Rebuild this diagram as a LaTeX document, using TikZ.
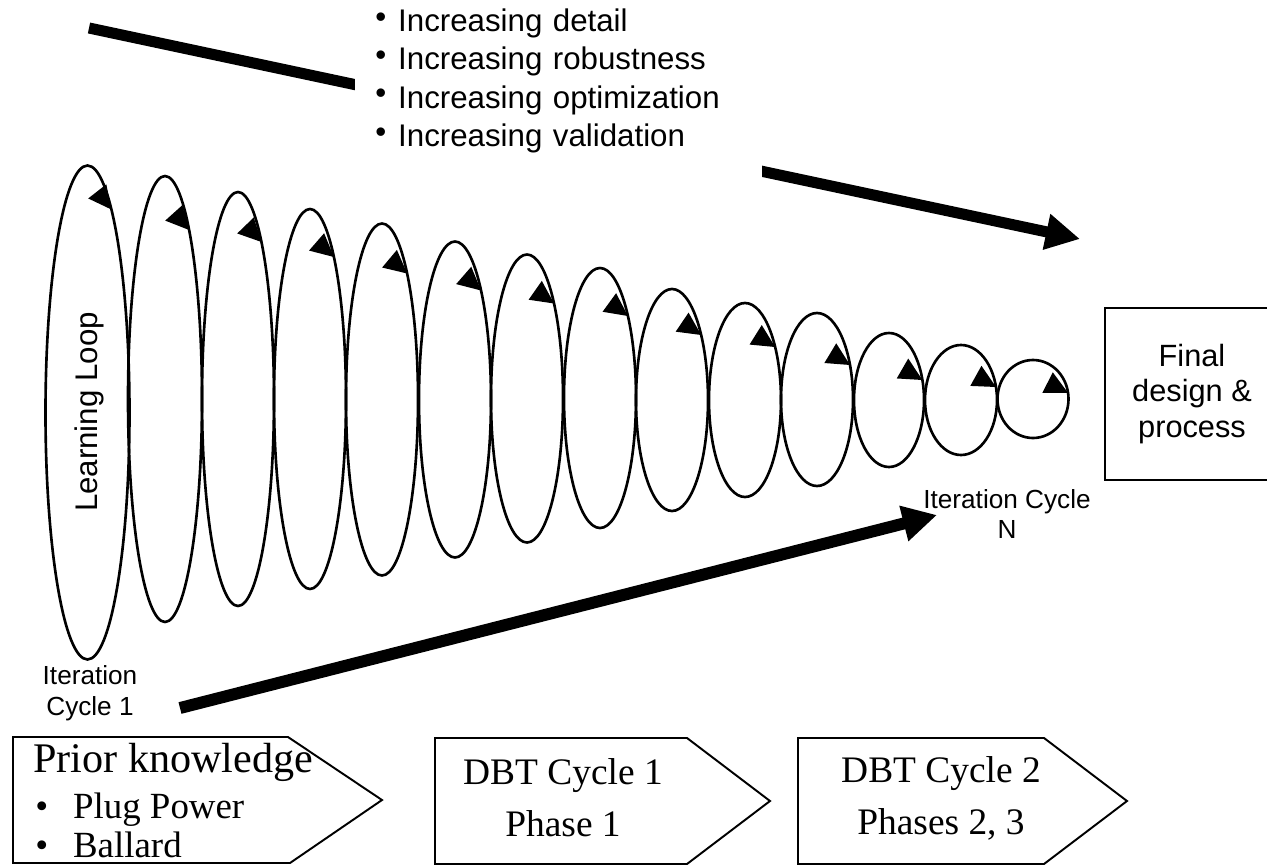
\documentclass[tikz,border=0pt]{standalone}
\usepackage{fontspec}
\setmainfont{Liberation Serif}
\setsansfont{Liberation Sans}
\usetikzlibrary{arrows.meta,calc}

\begin{document}
\begin{tikzpicture}[x=0.02cm, y=-0.02cm,
    loopline/.style={line width=1.5pt},
    fatarrow/.style={line width=6.3pt, -{Triangle[length=19.5pt,width=19.5pt]}},
    stagebox/.style={line width=1.1pt, line join=miter},
    cyclelabel/.style={font=\sffamily\fontsize{14.9}{17.6}\selectfont, align=center, inner sep=0pt},
    stagetext/.style={font=\fontsize{21.3}{29.5}\selectfont, align=center, inner sep=0pt}]
    \useasboundingbox (0,0) rectangle (1267,865);

    \foreach \i/\cx/\cy/\rx/\ry/\drop/\tilt in {1/87.5/412.5/42/247/44/52, 2/165/399/37/223/54/48,
        3/238/399/36/207/50/46, 4/310/399/36/190/48/41, 5/382/399.5/36/176/50/40,
        6/455/399.5/36/158/49/41, 7/527/398.5/36/144/49/35, 8/600/398/36/130/48/36,
        9/672/400/36/111/46/34, 10/745/400/36/97/44/32, 11/817/399.5/36/86.5/52/31,
        12/889/400/35/67/47/30, 13/961/400/36/55/42/29, 14/1033/399/35.5/39/33/27} {
        \draw[loopline] (\cx,\cy) ellipse [x radius=\rx, y radius=\ry];
        \pgfmathsetmacro\tipx{\cx+\rx*sqrt(1-((\ry-\drop)/\ry)^2)}
        \coordinate (tip\i) at (\tipx,\cy-\ry+\drop);
        \fill[shift={(tip\i)}, rotate=-\tilt] (0,0) -- (-23,11.5) -- (-23,-11.5) -- cycle;
    }
    \node[rotate=90, inner sep=0pt, font=\sffamily\fontsize{17.8}{20}\selectfont] (loop) at (89,412) {Learning Loop};
    \node[cyclelabel] (first) at (90,693) {Iteration\\Cycle 1};
    \node[cyclelabel] (last) at (1007,514) {Iteration Cycle\\N};

    \node[draw, line width=1.1pt, minimum width=3.48cm, minimum height=3.44cm, align=center,
          font=\sffamily\fontsize{17.5}{20.4}\selectfont] (final) at (1192,394) {Final\\design \&\\process};

    \coordinate (gainstart) at (89,28);
    \coordinate (gainend) at (1080,239);
    \draw[fatarrow] (gainstart) -- (gainend);
    \node[fill=white, anchor=west, inner xsep=0.4cm, inner ysep=0.7cm, text width=7.34cm, align=left,
          font=\sffamily\fontsize{17.8}{21.8}\selectfont] (gains) at (355,81)
        {\makebox[13pt][l]{\raisebox{2.5pt}{\textbullet}}Increasing detail\\
         \makebox[13pt][l]{\raisebox{2.5pt}{\textbullet}}Increasing robustness\\
         \makebox[13pt][l]{\raisebox{2.5pt}{\textbullet}}Increasing optimization\\
         \makebox[13pt][l]{\raisebox{2.5pt}{\textbullet}}Increasing validation};

    \coordinate (cyclestart) at (180,708);
    \coordinate (cycleend) at (937,515);
    \draw[fatarrow, line width=6.8pt] (cyclestart) -- (cycleend);

    \draw[stagebox] (13,737) -- (288,737) -- (382,800) -- (290,863) -- (13,863) -- cycle;
    \draw[stagebox] (435,738) -- (687,738) -- (770,801) -- (687,864) -- (435,864) -- cycle;
    \draw[stagebox] (798,738) -- (1044,738) -- (1127,801) -- (1044,864) -- (798,864) -- cycle;
    \node[anchor=base west, inner sep=0pt, font=\fontsize{24}{28}\selectfont] (prior) at (33,772) {Prior knowledge};
    \node[anchor=base west, inner sep=0pt, font=\fontsize{21}{24}\selectfont] (plug) at (35,818) {\makebox[21.5pt][l]{\textbullet}Plug Power};
    \node[anchor=base west, inner sep=0pt, font=\fontsize{21}{24}\selectfont] (ballard) at (35,857) {\makebox[21.5pt][l]{\textbullet}Ballard};
    \node[stagetext] (dbtone) at (563,798) {DBT Cycle 1\\Phase 1};
    \node[stagetext] (dbttwo) at (941,798) {DBT Cycle 2\\Phases 2, 3};
\end{tikzpicture}
\end{document}
